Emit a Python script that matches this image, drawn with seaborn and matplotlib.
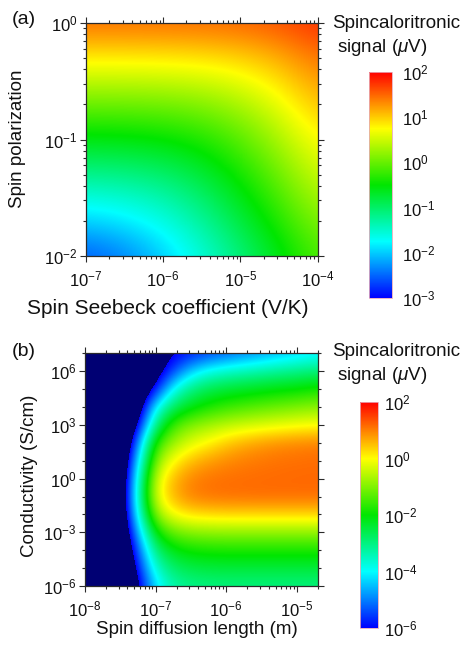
import numpy as np
import matplotlib
matplotlib.use("Agg")
import matplotlib.pyplot as plt
import seaborn as sns
from matplotlib.colors import LinearSegmentedColormap, Normalize
from matplotlib.ticker import FixedLocator, FixedFormatter

# ---------------- data (log10 units) ----------------
# Panel (a): spin Seebeck coefficient (V/K) vs spin polarization
seebeck_log10 = [-7.0, -6.5, -6.0, -5.5, -5.0, -4.5, -4.0]
polarization_log10 = [0.0, -0.25, -0.5, -0.75, -1.0, -1.25, -1.5, -1.75, -2.0]
signal_a_log10 = [
    [1.45, 1.45, 1.46, 1.47, 1.50, 1.59, 1.76],
    [0.94, 0.94, 0.95, 0.98, 1.05, 1.21, 1.48],
    [0.43, 0.43, 0.45, 0.50, 0.63, 0.88, 1.24],
    [-0.08, -0.07, -0.04, 0.05, 0.25, 0.59, 1.01],
    [-0.59, -0.57, -0.51, -0.36, -0.08, 0.33, 0.78],
    [-1.09, -1.05, -0.95, -0.72, -0.36, 0.08, 0.56],
    [-1.59, -1.52, -1.35, -1.04, -0.62, -0.15, 0.34],
    [-2.07, -1.94, -1.70, -1.32, -0.87, -0.38, 0.11],
    [-2.56, -2.36, -2.00, -1.57, -1.10, -0.61, -0.11],
]

# Panel (b): spin diffusion length (m) vs conductivity (S/cm)
diffusion_log10 = [-8.0, -7.75, -7.5, -7.25, -7.0, -6.75, -6.5, -6.25,
                   -6.0, -5.75, -5.5, -5.25, -5.0, -4.75]
conductivity_log10 = [7, 6, 5, 4, 3, 2, 1, 0, -1, -2, -3, -4, -5, -6]
signal_b_log10 = [
    [-9, -9, -8.5, -7.5, -6.6, -6.12, -5.85, -5.55, -5.3, -5.05, -4.85, -4.6, -4.4, -4.15],
    [-9, -9, -8.5, -7.6, -6.6, -5.5, -4.4, -3.85, -3.6, -3.45, -3.3, -3.17, -3.05, -2.93],
    [-9, -9, -8.7, -7.3, -5.9, -3.9, -3.0, -2.6, -2.42, -2.3, -2.2, -2.1, -2.03, -1.87],
    [-9, -9, -8.5, -6.9, -4.0, -2.75, -2.2, -1.85, -1.6, -1.45, -1.3, -1.18, -1.06, -0.95],
    [-9, -9, -8.0, -6.1, -3.0, -1.5, -1.0, -0.75, -0.55, -0.4, -0.3, -0.2, -0.12, -0.06],
    [-9, -9, -7.8, -5.0, -1.7, -0.8, -0.25, 0.05, 0.4, 0.62, 0.77, 0.87, 0.93, 0.98],
    [-9, -9, -7.5, -4.3, -1.0, 0.02, 0.5, 0.75, 0.9, 1.0, 1.06, 1.1, 1.12, 1.14],
    [-9, -9, -7.3, -3.8, -0.35, 0.55, 0.95, 1.08, 1.12, 1.14, 1.15, 1.16, 1.17, 1.17],
    [-9, -9, -7.2, -3.6, -0.2, 0.6, 1.0, 1.1, 1.13, 1.14, 1.15, 1.15, 1.15, 1.15],
    [-9, -9, -7.3, -3.9, -0.85, 0.0, 0.25, 0.32, 0.35, 0.35, 0.35, 0.35, 0.35, 0.35],
    [-9, -9, -7.5, -4.6, -2.0, -1.2, -0.95, -0.88, -0.86, -0.86, -0.86, -0.86, -0.86, -0.86],
    [-9, -9, -7.7, -5.3, -2.9, -2.15, -1.92, -1.85, -1.83, -1.83, -1.83, -1.83, -1.83, -1.83],
    [-9, -9, -7.9, -5.8, -3.6, -2.8, -2.55, -2.48, -2.45, -2.45, -2.45, -2.45, -2.45, -2.45],
    [-9, -9, -8.1, -6.3, -4.2, -3.35, -3.1, -3.03, -3.0, -3.0, -3.0, -3.0, -3.0, -3.0],
]

# axis ranges (log10) and tick labels
a_xlim = (-7.0, -4.0)
a_ylim = (-2.0, 0.0)
a_xticks = [-7, -6, -5, -4]
a_xticklabels = [r'$10^{-7}$', r'$10^{-6}$', r'$10^{-5}$', r'$10^{-4}$']
a_yticks = [-2, -1, 0]
a_yticklabels = [r'$10^{-2}$', r'$10^{-1}$', r'$10^{0}$']
a_cticks = [-3, -2, -1, 0, 1, 2]
a_cticklabels = [r'$10^{-3}$', r'$10^{-2}$', r'$10^{-1}$', r'$10^{0}$', r'$10^{1}$', r'$10^{2}$']

b_xlim = (-8.0, np.log10(2e-5))
b_ylim = (-6.0, 7.05)
b_xticks = [-8, -7, -6, -5]
b_xticklabels = [r'$10^{-8}$', r'$10^{-7}$', r'$10^{-6}$', r'$10^{-5}$']
b_yticks = [-6, -3, 0, 3, 6]
b_yticklabels = [r'$10^{-6}$', r'$10^{-3}$', r'$10^{0}$', r'$10^{3}$', r'$10^{6}$']
b_cticks = [-6, -4, -2, 0, 2]
b_cticklabels = [r'$10^{-6}$', r'$10^{-4}$', r'$10^{-2}$', r'$10^{0}$', r'$10^{2}$']

# ---------------- style ----------------
sns.set_theme(style="ticks")
plt.rcParams.update({
    "font.family": ["Liberation Sans", "DejaVu Sans"],
    "mathtext.fontset": "custom",
    "mathtext.rm": "Liberation Sans",
    "mathtext.it": "Liberation Sans:italic",
    "mathtext.bf": "Liberation Sans:bold",
    "mathtext.default": "regular",
    "axes.edgecolor": "#2a2a2a",
    "axes.linewidth": 0.9,
    "xtick.color": "#2a2a2a",
    "ytick.color": "#2a2a2a",
    "text.color": "#111111",
    "xtick.labelcolor": "#111111",
    "ytick.labelcolor": "#111111",
})

W, H = 465, 648
fig = plt.figure(figsize=(W / 100, H / 100), dpi=100)

cmap = LinearSegmentedColormap.from_list(
    "rainbow5",
    [(0.0, "#0000ff"), (0.25, "#00ffff"), (0.5, "#00e600"),
     (0.75, "#ffff00"), (1.0, "#ff0000")], N=512)
cmap_b = cmap.copy()
cmap_b.set_under("#000073")


def px_axes(x0, y0, x1, y1):
    return fig.add_axes([x0 / W, 1 - y1 / H, (x1 - x0) / W, (y1 - y0) / H])


def ftext(x, y, s, **kw):
    fig.text(x / W, 1 - y / H, s, **kw)


def extent_of(xc, yc):
    dx = xc[1] - xc[0]
    dy = abs(yc[1] - yc[0])
    return [xc[0] - dx / 2, xc[-1] + dx / 2,
            min(yc) - dy / 2, max(yc) + dy / 2]


def log_minor(lo, hi, every_decade_only=False, majors=()):
    out = []
    for d in range(int(np.floor(lo)) - 1, int(np.ceil(hi)) + 1):
        if every_decade_only:
            if lo <= d <= hi and d not in majors:
                out.append(d)
        else:
            for k in range(2, 10):
                v = d + np.log10(k)
                if lo - 1e-9 <= v <= hi + 1e-9:
                    out.append(v)
    return out


def style_axes(ax, xlim, ylim, xt, xtl, yt, ytl, yminor_decades=False):
    ax.set_xlim(*xlim)
    ax.set_ylim(*ylim)
    ax.xaxis.set_major_locator(FixedLocator(xt))
    ax.xaxis.set_major_formatter(FixedFormatter(xtl))
    ax.yaxis.set_major_locator(FixedLocator(yt))
    ax.yaxis.set_major_formatter(FixedFormatter(ytl))
    ax.xaxis.set_minor_locator(FixedLocator(log_minor(*xlim)))
    ax.yaxis.set_minor_locator(FixedLocator(
        log_minor(*ylim, every_decade_only=yminor_decades, majors=yt)))
    ax.tick_params(which="both", direction="out", top=True, right=True,
                   labeltop=False, labelright=False, width=0.8)
    ax.tick_params(which="major", length=4.5, labelsize=12)
    ax.tick_params(which="minor", length=2.5)
    ax.tick_params(axis="x", which="major", pad=5)
    ax.tick_params(axis="y", which="major", pad=1.5)


def style_cbar(cb, ticks, labels, pad):
    cb.set_ticks(ticks)
    cb.set_ticklabels(labels)
    cb.ax.tick_params(length=0, pad=pad, labelsize=12)
    cb.outline.set_edgecolor("#e8a8b8")
    cb.outline.set_linewidth(0.6)


# ---------------- panel (a) ----------------
ax_a = px_axes(86, 23, 317.5, 256)
im_a = ax_a.imshow(np.array(signal_a_log10), origin="upper",
                   extent=extent_of(seebeck_log10, polarization_log10),
                   cmap=cmap, norm=Normalize(-3, 2), aspect="auto",
                   interpolation="bicubic", interpolation_stage="data")
style_axes(ax_a, a_xlim, a_ylim, a_xticks, a_xticklabels, a_yticks, a_yticklabels)

cax_a = px_axes(369, 72, 392, 298)
cb_a = fig.colorbar(im_a, cax=cax_a)
style_cbar(cb_a, a_cticks, a_cticklabels, pad=7)

# ---------------- panel (b) ----------------
ax_b = px_axes(85, 352.5, 318, 586)
im_b = ax_b.imshow(np.array(signal_b_log10), origin="upper",
                   extent=extent_of(diffusion_log10, conductivity_log10),
                   cmap=cmap_b, norm=Normalize(-6, 2), aspect="auto",
                   interpolation="bicubic", interpolation_stage="data")
style_axes(ax_b, b_xlim, b_ylim, b_xticks, b_xticklabels, b_yticks, b_yticklabels,
           yminor_decades=True)

cax_b = px_axes(360, 402, 378, 628)
cb_b = fig.colorbar(im_b, cax=cax_b)
style_cbar(cb_b, b_cticks, b_cticklabels, pad=4.5)

# ---------------- texts ----------------
lab_fs = 13.5
ftext(12, 20, "(a)", ha="left", va="center", fontsize=14)
ftext(12, 352, "(b)", ha="left", va="center", fontsize=14)
ftext(332, 23, "Spincaloritronic", ha="left", va="center", fontsize=lab_fs)
ftext(337, 47, r"signal ($\mathit{\mu}$V)", ha="left", va="center", fontsize=lab_fs)
ftext(332, 352, "Spincaloritronic", ha="left", va="center", fontsize=lab_fs)
ftext(337, 376, r"signal ($\mathit{\mu}$V)", ha="left", va="center", fontsize=lab_fs)
ftext(17, 139, "Spin polarization", ha="center", va="center", rotation=90, fontsize=lab_fs)
ftext(30, 476, "Conductivity (S/cm)", ha="center", va="center", rotation=90, fontsize=lab_fs)
ftext(168, 308, "Spin Seebeck coefficient (V/K)", ha="center", va="center", fontsize=15)
ftext(197, 629, "Spin diffusion length (m)", ha="center", va="center", fontsize=lab_fs)

fig.savefig("out.png", dpi=100)
